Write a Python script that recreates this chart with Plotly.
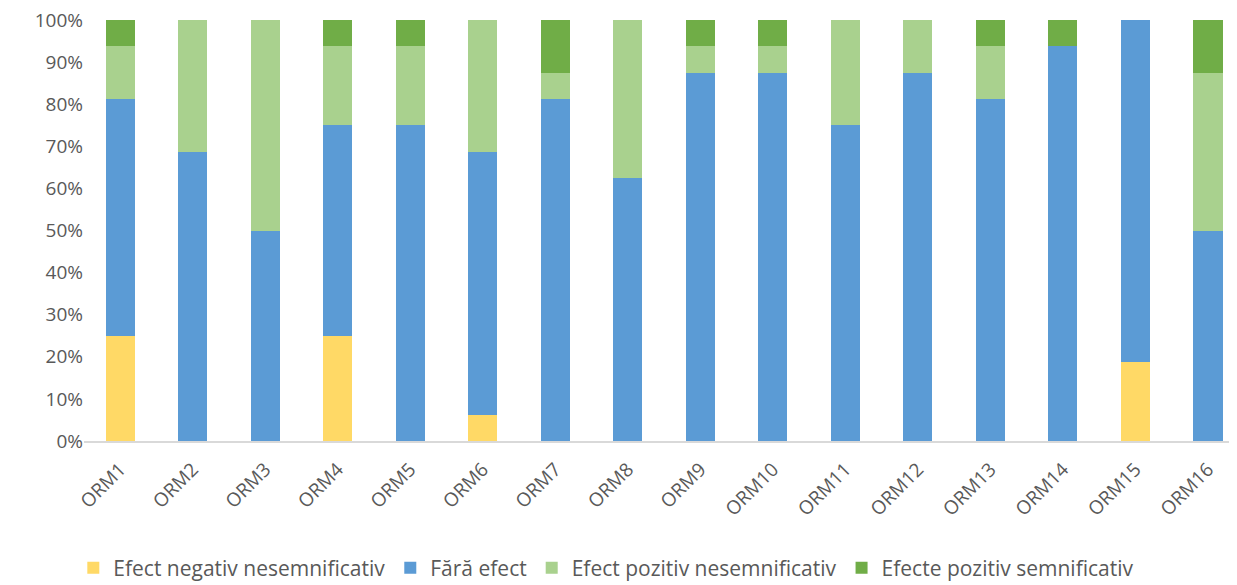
import plotly.graph_objects as go

categories = [f"ORM{i}" for i in range(1, 17)]
series_names = ["Efect negativ nesemnificativ", "Fără efect", "Efect pozitiv nesemnificativ", "Efecte pozitiv semnificativ"]
neg_nesemn = [25, 0, 0, 25, 0, 6.25, 0, 0, 0, 0, 0, 0, 0, 0, 18.75, 0]
fara_efect = [56.25, 68.75, 50, 50, 75, 62.5, 81.25, 62.5, 87.5, 87.5, 75, 87.5, 81.25, 93.75, 81.25, 50]
poz_nesemn = [12.5, 31.25, 50, 18.75, 18.75, 31.25, 6.25, 37.5, 6.25, 6.25, 25, 12.5, 12.5, 0, 0, 37.5]
poz_semn = [6.25, 0, 0, 6.25, 6.25, 0, 12.5, 0, 6.25, 6.25, 0, 0, 6.25, 6.25, 0, 12.5]
tick_values = list(range(0, 101, 10))
tick_labels = [f"{v}%" for v in tick_values]
colors = ["#FFD966", "#5B9BD5", "#A9D18E", "#70AD47"]

fig = go.Figure()
for name, vals, col in zip(series_names, [neg_nesemn, fara_efect, poz_nesemn, poz_semn], colors):
    fig.add_trace(go.Bar(x=categories, y=vals, name=name, marker=dict(color=col, line=dict(width=0))))

font_col = "#595959"
fig.update_layout(
    barmode="stack",
    bargap=0.6,
    width=1229, height=577,
    margin=dict(l=76, r=0, t=12, b=144, autoexpand=False),
    plot_bgcolor="white", paper_bgcolor="white",
    font=dict(family="Open Sans, Liberation Sans, sans-serif", size=19, color=font_col),
    xaxis=dict(range=[-0.5, 15.4], tickangle=-45, showline=True, linecolor="#D9D9D9", linewidth=1.5,
               ticks="", showgrid=False, automargin=False, ticklabelstandoff=8,
               tickfont=dict(size=19, color=font_col)),
    yaxis=dict(range=[0, 100], tickvals=tick_values, ticktext=tick_labels, showgrid=False,
               zeroline=False, showline=False, automargin=False, ticklabeloverflow="allow",
               tickfont=dict(size=19, color=font_col)),
    legend=dict(orientation="h", x=0.453, xanchor="center", y=-0.302, yanchor="middle",
                font=dict(size=21, color=font_col), traceorder="normal", itemwidth=30),
    showlegend=True,
)
fig.write_html("out.html")
